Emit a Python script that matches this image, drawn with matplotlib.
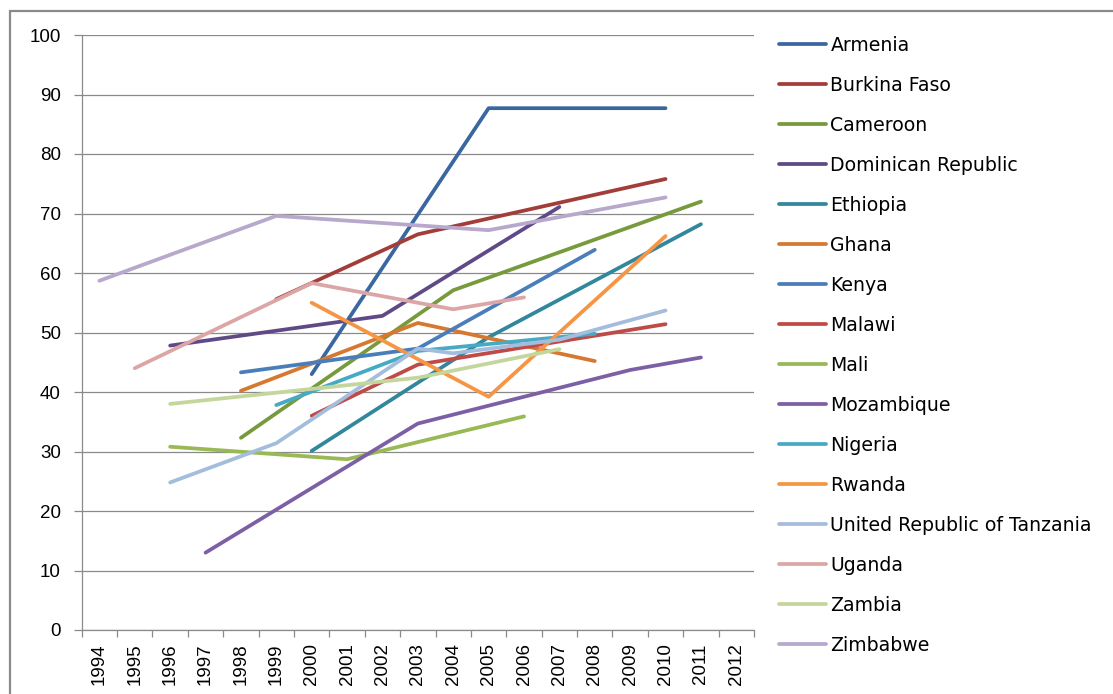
import numpy as np
import matplotlib
matplotlib.use("Agg")
import matplotlib.pyplot as plt
from matplotlib.patches import Rectangle

na = np.nan

years = ["1994", "1995", "1996", "1997", "1998", "1999", "2000", "2001", "2002", "2003",
         "2004", "2005", "2006", "2007", "2008", "2009", "2010", "2011", "2012"]

#            1994 1995 1996  1997  1998  1999  2000  2001  2002  2003  2004  2005  2006  2007  2008  2009  2010  2011  2012
armenia    = [na,  na,  na,   na,   na,   na,   43.0, na,   na,   na,   na,   87.7, na,   na,   na,   na,   87.7, na,   na]
burkina    = [na,  na,  na,   na,   na,   55.6, na,   na,   na,   66.5, na,   na,   na,   na,   na,   na,   75.8, na,   na]
cameroon   = [na,  na,  na,   na,   32.3, na,   na,   na,   na,   na,   57.1, na,   na,   na,   na,   na,   na,   72.0, na]
dominican  = [na,  na,  47.8, na,   na,   na,   na,   na,   52.8, na,   na,   na,   na,   71.1, na,   na,   na,   na,   na]
ethiopia   = [na,  na,  na,   na,   na,   na,   30.1, na,   na,   na,   na,   49.2, na,   na,   na,   na,   na,   68.2, na]
ghana      = [na,  na,  na,   na,   40.2, na,   na,   na,   na,   51.6, na,   na,   na,   na,   45.2, na,   na,   na,   na]
kenya      = [na,  na,  na,   na,   43.3, na,   na,   na,   na,   47.3, na,   na,   na,   na,   63.9, na,   na,   na,   na]
malawi     = [na,  na,  na,   na,   na,   na,   36.0, na,   na,   44.6, na,   na,   na,   na,   na,   na,   51.4, na,   na]
mali       = [na,  na,  30.8, na,   na,   na,   na,   28.7, na,   na,   na,   na,   35.9, na,   na,   na,   na,   na,   na]
mozambique = [na,  na,  na,   13.0, na,   na,   na,   na,   na,   34.7, na,   na,   na,   na,   na,   43.7, na,   45.8, na]
nigeria    = [na,  na,  na,   na,   na,   37.8, na,   na,   na,   46.9, na,   na,   na,   na,   49.8, na,   na,   na,   na]
rwanda     = [na,  na,  na,   na,   na,   na,   55.0, na,   na,   na,   na,   39.2, na,   na,   na,   na,   66.2, na,   na]
tanzania   = [na,  na,  24.8, na,   na,   31.4, na,   na,   na,   47.3, 46.5, na,   na,   48.8, na,   na,   53.7, na,   na]
uganda     = [na,  44.0, na,  na,   na,   na,   58.3, na,   na,   na,   53.9, na,   55.9, na,   na,   na,   na,   na,   na]
zambia     = [na,  na,  38.0, na,   na,   na,   na,   na,   na,   42.4, na,   na,   na,   47.2, na,   na,   na,   na,   na]
zimbabwe   = [58.7, na, na,   na,   na,   69.6, na,   na,   na,   na,   na,   67.2, na,   na,   na,   na,   72.7, na,   na]

countries = ["Armenia", "Burkina Faso", "Cameroon", "Dominican Republic", "Ethiopia", "Ghana",
             "Kenya", "Malawi", "Mali", "Mozambique", "Nigeria", "Rwanda",
             "United Republic of Tanzania", "Uganda", "Zambia", "Zimbabwe"]
series = [armenia, burkina, cameroon, dominican, ethiopia, ghana,
          kenya, malawi, mali, mozambique, nigeria, rwanda,
          tanzania, uganda, zambia, zimbabwe]
colors = ["#3b67a0", "#a33d39", "#779a3c", "#5f4a87", "#31879c", "#d6782f",
          "#4a7ebb", "#be4b48", "#98b954", "#7d5fa5", "#46aac5", "#f69544",
          "#a5bddc", "#dba6a5", "#c3d69b", "#b7a8cc"]

grey = "#8a8a8a"

fig = plt.figure(figsize=(11.13, 6.94), dpi=100)
ax = fig.add_axes([81.7 / 1113, 1 - 630 / 694, (754 - 81.7) / 1113, (630 - 35) / 694])

x = np.arange(len(years))
handles = []
for name, vals, col in zip(countries, series, colors):
    v = np.array(vals, dtype=float)
    ok = ~np.isnan(v)
    ln, = ax.plot(x[ok], v[ok], color=col, lw=2.7, solid_capstyle="round",
                  solid_joinstyle="round", label=name)
    handles.append(ln)

ax.set_xlim(-0.5, len(years) - 0.5)
ax.set_ylim(0, 100)
ax.set_yticks(range(0, 101, 10))
ax.yaxis.grid(True, color=grey, lw=0.9)
ax.set_axisbelow(True)

ax.set_xticks(x)
ax.set_xticklabels(years, rotation=90)
ax.set_xticks(np.arange(-0.5, len(years), 1), minor=True)
ax.tick_params(axis="x", which="major", length=0, pad=9.5)
ax.tick_params(axis="x", which="minor", length=5, color=grey, width=0.9)
ax.tick_params(axis="y", length=6, color=grey, width=0.9, pad=9)
for lab in ax.get_xticklabels() + ax.get_yticklabels():
    lab.set_fontfamily("Liberation Sans")
    lab.set_fontsize(13.5)

for s in ["top", "right"]:
    ax.spines[s].set_visible(False)
for s in ["left", "bottom"]:
    ax.spines[s].set_color(grey)
    ax.spines[s].set_linewidth(0.9)

fig.legend(handles=handles, loc="upper left",
           bbox_to_anchor=(779 / 1113, 1 - 36 / 694), frameon=False,
           borderpad=0, borderaxespad=0, handlelength=2.5, handletextpad=0.22,
           labelspacing=1.11, prop={"family": "DejaVu Sans", "size": 13.6})

# chart area frame
fig.add_artist(Rectangle((10 / 1113, -0.2), 1.2, 1.2 - 11 / 694,
                         transform=fig.transFigure, fill=False,
                         edgecolor=grey, lw=1.6))

fig.savefig("out.png", dpi=100)
